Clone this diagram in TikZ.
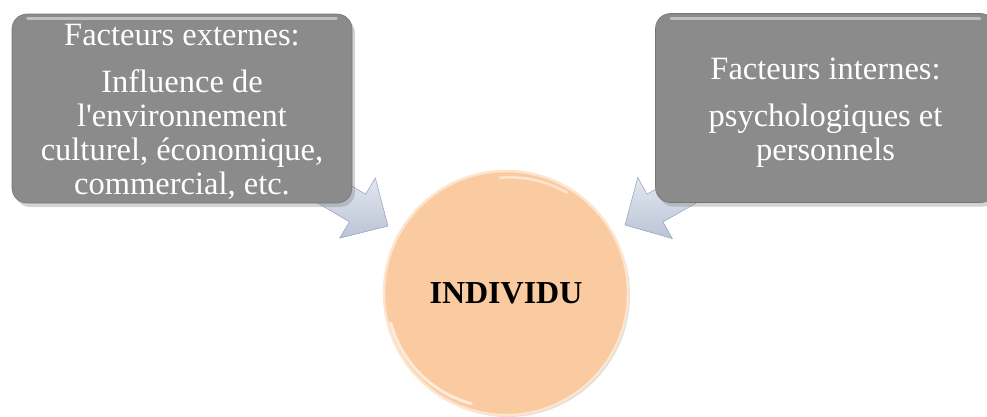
\documentclass[tikz,border=0pt]{standalone}
\usepackage{fontspec}
\setmainfont{Liberation Serif}
\usetikzlibrary{shadows}
\definecolor{boxgray}{RGB}{139,139,139}
\definecolor{peach}{RGB}{250,203,161}
\definecolor{peachrim}{RGB}{253,229,205}
\definecolor{arrowlight}{RGB}{242,245,250}
\definecolor{arrowdark}{RGB}{186,196,214}
\definecolor{arrowedge}{RGB}{150,160,182}
\tikzset{
  factbox/.style={rounded corners=15pt, fill=boxgray, draw=boxgray!85!black, line width=0.6pt,
    minimum width=340pt, minimum height=189pt, inner sep=0pt, align=center, text=white,
    font=\fontsize{32.5}{34}\selectfont,
    drop shadow={shadow xshift=3pt, shadow yshift=-4pt, opacity=0.35}},
  gloss/.style={white, opacity=0.45, line width=3pt, line cap=round},
  blockarrow/.style={top color=arrowlight, bottom color=arrowdark, draw=arrowedge, line width=0.5pt, line join=miter},
  core/.style={circle, fill=peach, draw=peachrim, line width=2.5pt, minimum size=244pt, inner sep=0pt,
    font=\fontsize{32}{36}\selectfont\bfseries,
    drop shadow={shadow xshift=2pt, shadow yshift=-2pt, opacity=0.25}}
}
\begin{document}
\begin{tikzpicture}[x=1pt,y=-1pt]
\useasboundingbox (0,0) rectangle (987,416);
% left block arrow
\coordinate (la1) at (296.7,153.6);
\coordinate (la2) at (365.6,194.2);
\coordinate (la3) at (375.3,177.9);
\coordinate (latip) at (388,226);
\coordinate (la5) at (339.7,238.1);
\coordinate (la6) at (349.4,221.8);
\coordinate (la7) at (280.5,181.2);
\draw[blockarrow] (la1) -- (la2) -- (la3) -- (latip) -- (la5) -- (la6) -- (la7) -- cycle;
% right block arrow
\coordinate (ra1) at (716.7,154.7);
\coordinate (ra2) at (647.1,194.1);
\coordinate (ra3) at (637.7,177.6);
\coordinate (ratip) at (625,225);
\coordinate (ra5) at (672.3,238.5);
\coordinate (ra6) at (662.9,221.9);
\coordinate (ra7) at (732.5,182.5);
\draw[blockarrow] (ra1) -- (ra2) -- (ra3) -- (ratip) -- (ra5) -- (ra6) -- (ra7) -- cycle;
% boxes
\node[factbox] (ext) at (182,108.5) {\rule{0pt}{28pt}Facteurs externes:\\[13pt]Influence de\\l\textquotesingle environnement\\culturel, économique,\\commercial, etc.};
\draw[gloss] ([xshift=16pt,yshift=-5pt]ext.north west) -- ([xshift=-16pt,yshift=-5pt]ext.north east);
\node[factbox] (int) at (825.5,108) {\rule{0pt}{30pt}Facteurs internes:\\[13pt]psychologiques et\\personnels};
\draw[gloss] ([xshift=16pt,yshift=-5pt]int.north west) -- ([xshift=-16pt,yshift=-5pt]int.north east);
% centre
\node[core] (ind) at (506,293) {INDIVIDU};
\draw[white, opacity=0.5, line width=2.5pt, line cap=round] ([shift={(-6pt,-8pt)}]ind.north) arc[start angle=95, end angle=60, radius=114pt];
\draw[white, opacity=0.6, line width=3pt, line cap=round] ([shift={(8pt,0pt)}]ind.west) ++(0,-30pt) arc[start angle=195, end angle=255, radius=114pt];
\end{tikzpicture}
\end{document}
